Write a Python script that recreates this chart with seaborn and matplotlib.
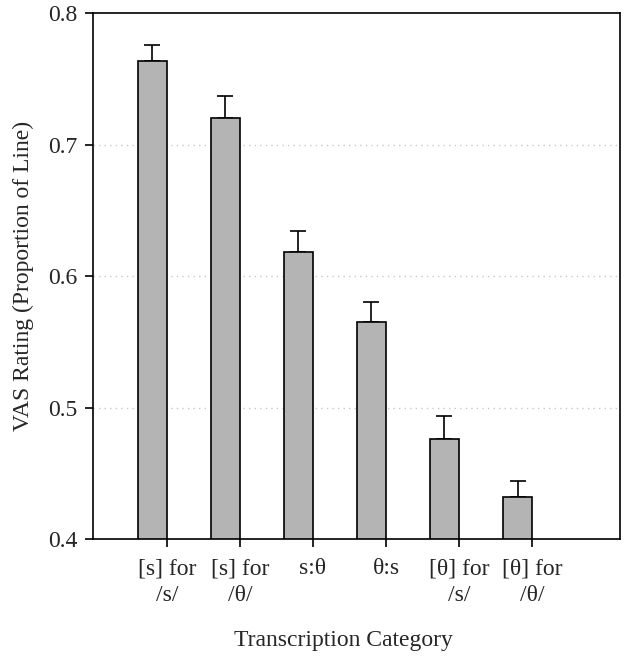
import numpy as np
import pandas as pd
import matplotlib
matplotlib.use("Agg")
import matplotlib.pyplot as plt
import seaborn as sns

# --- Datos ---
categories = ["[s] for\n/s/", "[s] for\n/θ/", "s:θ", "θ:s", "[θ] for\n/s/", "[θ] for\n/θ/"]
ratings = [0.7635, 0.7205, 0.6185, 0.5650, 0.4762, 0.4322]
errors = [0.0124, 0.0170, 0.0160, 0.0152, 0.0172, 0.0122]

sns.set_style("ticks")
plt.rcParams["font.family"] = ["Liberation Serif", "DejaVu Serif"]

df = pd.DataFrame({"category": categories, "rating": ratings, "err": errors})

fig = plt.figure(figsize=(6.28, 6.57), dpi=100)
ax = fig.add_axes([0.148, 0.1796, 0.839, 0.800])

sns.barplot(data=df, x="category", y="rating", color="#b4b4b4", saturation=1,
            edgecolor="black", linewidth=1.2, width=0.4, ax=ax, zorder=2)

# barras desplazadas: el tick queda en el borde derecho de cada barra
pos = np.arange(len(categories))
ax.errorbar(pos, df["rating"], yerr=[np.zeros(len(pos)), df["err"]],
            fmt="none", ecolor="black", elinewidth=1.2, capsize=5.8, capthick=1.2, zorder=1)

ax.set_xticks(pos + 0.2)
ax.set_xticklabels(categories, fontsize=17, linespacing=1.35)
ax.set_xlim(-0.81, 6.4)
ax.set_ylim(0.4, 0.8)
ax.set_yticks([0.4, 0.5, 0.6, 0.7, 0.8])
ax.set_yticklabels(["0.4", "0.5", "0.6", "0.7", "0.8"], fontsize=17)
for y in [0.5, 0.6, 0.7]:
    ax.axhline(y, color="#c8c8c8", linestyle=(0, (1, 3)), linewidth=1, zorder=0)

ax.tick_params(axis="both", direction="out", length=6, width=1.2, color="black", pad=5)
ax.tick_params(axis="x", pad=8)
for s in ax.spines.values():
    s.set_linewidth(1.2)
    s.set_color("black")

ax.set_xlabel("Transcription Category", fontsize=17, labelpad=17)
ax.xaxis.label.set_x(0.476)
ax.set_ylabel("VAS Rating (Proportion of Line)", fontsize=17, labelpad=10)

fig.savefig("out.png", dpi=100)
